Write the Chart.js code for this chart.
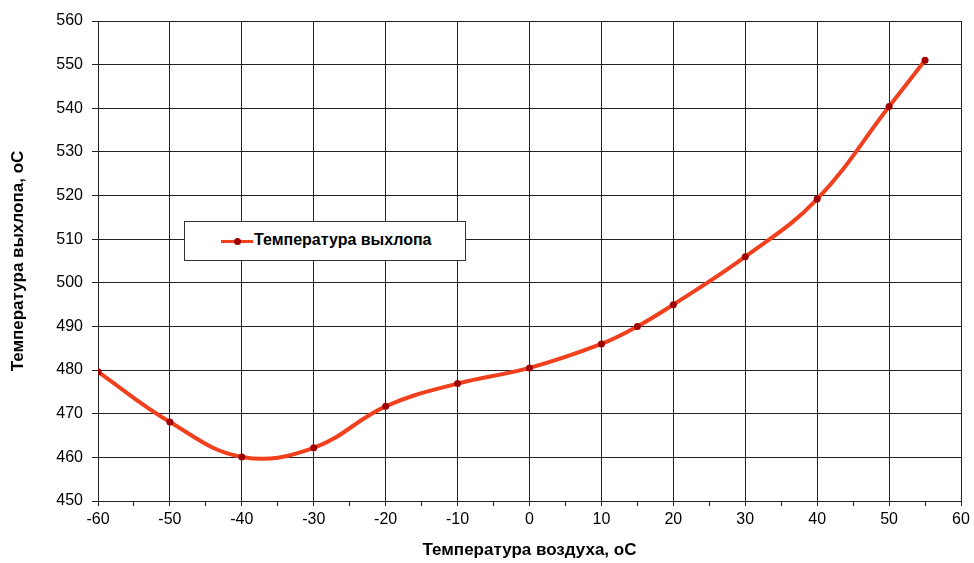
<!DOCTYPE html>
<html>
<head>
<meta charset="utf-8">
<script src="https://cdn.jsdelivr.net/npm/chart.js@4.4.1/dist/chart.umd.min.js"></script>
<style>
  html, body { margin: 0; padding: 0; background: #fff; }
  #wrap { position: relative; width: 974px; height: 563px; }
  #legenda {
    position: absolute; left: 184px; top: 221px; width: 280px; height: 38px;
    border: 1px solid #333; background: #fff;
    font: bold 16px "Liberation Sans", Arial, sans-serif; color: #000;
  }
  #legenda .linie { position: absolute; left: 36px; top: 18px; width: 32px; height: 3px; background: #f0401e; }
  #legenda .punct { position: absolute; left: 49px; top: 16px; width: 7px; height: 7px; border-radius: 50%; background: #a00000; }
  #legenda .text { position: absolute; left: 69px; top: 9px; }
</style>
</head>
<body>
<div id="wrap">
  <canvas id="tempChart" width="974" height="563"></canvas>
  <div id="legenda"><span class="linie"></span><span class="punct"></span><span class="text">Температура выхлопа</span></div>
</div>
<script>
const tempAer = [-60, -50, -40, -30, -20, -10, 0, 10, 15, 20, 30, 40, 50, 55];
const tempEvacuare = [479.6, 468.1, 460.1, 462.2, 471.7, 476.9, 480.5, 486.0, 490.0, 495.0, 506.0, 519.2, 540.4, 551.0];
const numeSerie = 'Температура выхлопа';
const titluX = 'Температура воздуха, оС';
const titluY = 'Температура выхлопа, оС';

const font = "'Liberation Sans', Arial, sans-serif";

const ctx = document.getElementById('tempChart').getContext('2d');
new Chart(ctx, {
  type: 'line',
  data: {
    datasets: [{
      label: numeSerie,
      data: tempAer.map((x, i) => ({ x: x, y: tempEvacuare[i] })),
      borderColor: '#f0401e',
      borderWidth: 4,
      tension: 0.4,
      pointRadius: 3.5,
      pointBackgroundColor: '#a00000',
      pointBorderColor: '#a00000',
      pointBorderWidth: 0
    }]
  },
  options: {
    responsive: false,
    animation: false,
    layout: { padding: { left: 0, top: 21, right: 13, bottom: 0 } },
    plugins: {
      legend: { display: false },
      tooltip: { enabled: false }
    },
    scales: {
      x: {
        type: 'linear',
        min: -60,
        max: 60,
        afterFit: function(scale) { scale.height = 62; },
        border: { color: '#222', width: 1 },
        grid: {
          color: c => (c.tick && c.tick.value % 10 === 0) ? '#222' : 'transparent',
          tickColor: '#222',
          tickLength: 5
        },
        ticks: {
          stepSize: 5,
          autoSkip: false,
          maxRotation: 0,
          padding: 4,
          color: '#000',
          font: { family: font, size: 16 },
          callback: function(value) {
            return value % 10 === 0 ? value : '';
          }
        },
        title: {
          display: true,
          text: titluX,
          color: '#000',
          padding: { top: 0, bottom: 2 },
          font: { family: font, size: 17, weight: 'bold' }
        }
      },
      y: {
        min: 450,
        max: 560,
        afterFit: function(scale) { scale.width = 98; },
        border: { color: '#222', width: 1 },
        grid: { color: '#222', tickLength: 6 },
        ticks: {
          stepSize: 10,
          padding: 9,
          color: '#000',
          font: { family: font, size: 16 }
        },
        title: {
          display: true,
          text: titluY,
          color: '#000',
          padding: { top: 8, bottom: 0 },
          font: { family: font, size: 17, weight: 'bold' }
        }
      }
    }
  }
});
</script>
</body>
</html>
